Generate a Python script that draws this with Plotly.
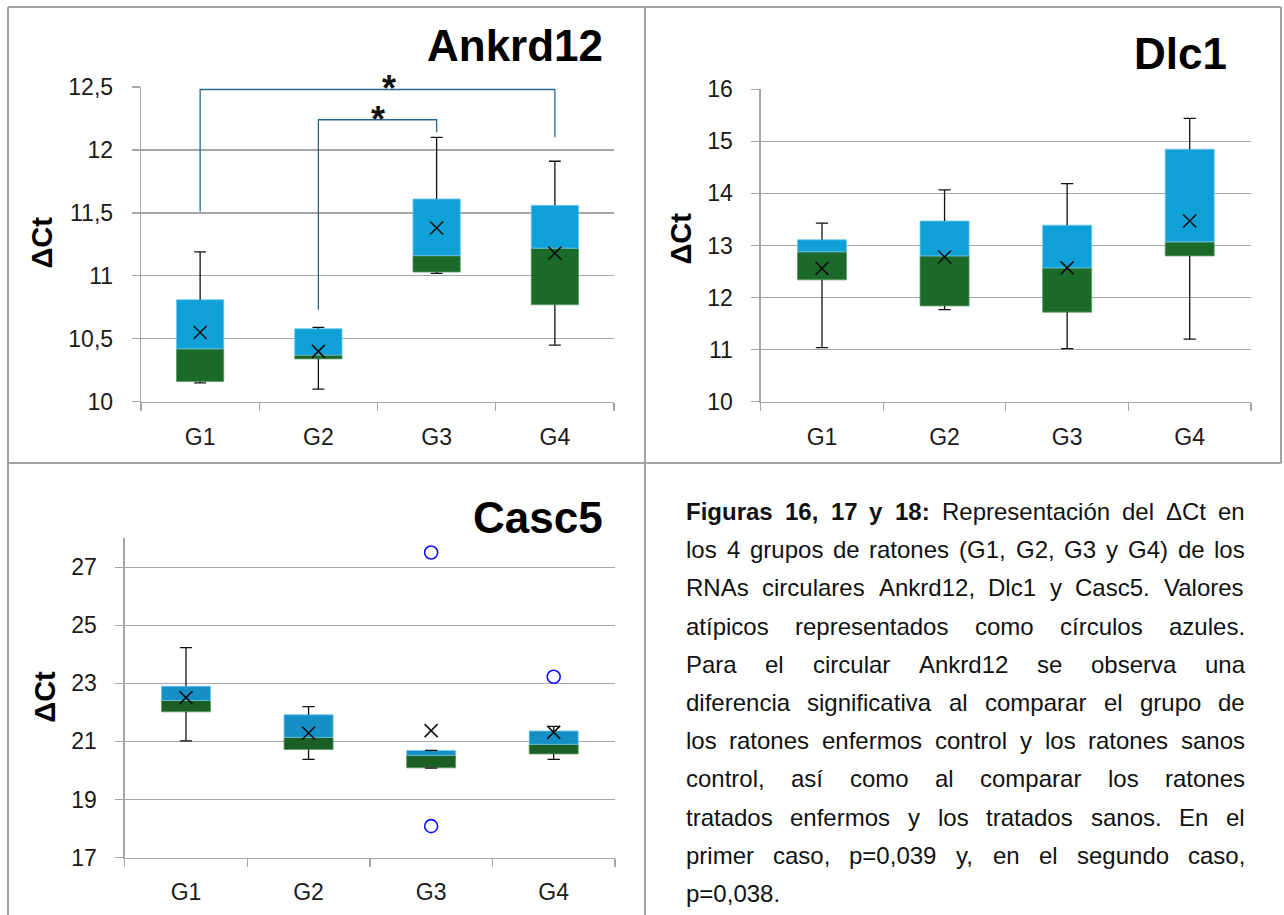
import plotly.graph_objects as go

# ---------------- data ----------------
CATEGORIES = ["G1", "G2", "G3", "G4"]

ANKRD12_MIN = [10.15, 10.10, 11.02, 10.45]
ANKRD12_Q1 = [10.16, 10.34, 11.03, 10.77]
ANKRD12_MEDIAN = [10.42, 10.37, 11.16, 11.22]
ANKRD12_Q3 = [10.81, 10.58, 11.61, 11.56]
ANKRD12_MAX = [11.19, 10.59, 12.10, 11.91]
ANKRD12_MEAN = [10.55, 10.40, 11.38, 11.18]
# significance brackets: (from group, to group, left foot, top level, right foot, star position)
ANKRD12_BRACKETS = [
    ("G1", "G4", 11.51, 12.48, 12.10, 1.6),
    ("G2", "G3", 10.73, 12.24, 12.14, 1.5),
]
ANKRD12_STAR_LEVELS = [12.56, 12.31]

DLC1_MIN = [11.04, 11.77, 11.02, 11.20]
DLC1_Q1 = [12.34, 11.84, 11.72, 12.80]
DLC1_MEDIAN = [12.88, 12.80, 12.57, 13.07]
DLC1_Q3 = [13.11, 13.47, 13.39, 14.85]
DLC1_MAX = [13.43, 14.07, 14.19, 15.44]
DLC1_MEAN = [12.56, 12.78, 12.57, 13.47]

CASC5_MIN = [21.02, 20.38, 20.08, 20.38]
CASC5_Q1 = [22.02, 20.72, 20.09, 20.57]
CASC5_MEDIAN = [22.41, 21.14, 20.52, 20.90]
CASC5_Q3 = [22.90, 21.92, 20.69, 21.36]
CASC5_MAX = [24.23, 22.20, 20.69, 21.52]
CASC5_MEAN = [22.51, 21.29, 21.37, 21.31]
CASC5_OUTLIER_GROUPS = ["G3", "G3", "G4"]
CASC5_OUTLIER_VALUES = [27.51, 18.08, 23.23]

CAPTION_BOLD = "Figuras 16, 17 y 18:"
CAPTION_LINES = [
    "Figuras 16, 17 y 18: Representación del ΔCt en",
    "los 4 grupos de ratones (G1, G2, G3 y G4) de los",
    "RNAs circulares Ankrd12, Dlc1 y Casc5. Valores",
    "atípicos representados como círculos azules.",
    "Para el circular Ankrd12 se observa una",
    "diferencia significativa al comparar el grupo de",
    "los ratones enfermos control y los ratones sanos",
    "control, así como al comparar los ratones",
    "tratados enfermos y los tratados sanos. En el",
    "primer caso, p=0,039 y, en el segundo caso,",
    "p=0,038.",
]

# ---------------- styling ----------------
W, H = 1284, 915
FONT = "Liberation Sans, Arial, sans-serif"
GRID = "#a6a6a6"
BORDER = "#a3a3a3"
TXT = "#1a1a1a"


def px(x):
    return x / W


def py(y):
    return 1 - y / H


fig = go.Figure()

PANELS = [
    dict(sfx="", data=(ANKRD12_MIN, ANKRD12_Q1, ANKRD12_MEDIAN, ANKRD12_Q3, ANKRD12_MAX, ANKRD12_MEAN),
         xd=(141, 614), yd=(401.7, 87), rng=(10, 12.5), dtick=0.5, tick0=10,
         green="#1b6a29", blue="#0fa0d8", title="Ankrd12", tx=605, ty=46, ytx=41.5, yty=242),
    dict(sfx="2", data=(DLC1_MIN, DLC1_Q1, DLC1_MEDIAN, DLC1_Q3, DLC1_MAX, DLC1_MEAN),
         xd=(760.7, 1251), yd=(401.7, 89.3), rng=(10, 16), dtick=1, tick0=10,
         green="#1b6a29", blue="#0fa0d8", title="Dlc1", tx=1229, ty=53, ytx=680.5, yty=239),
    dict(sfx="3", data=(CASC5_MIN, CASC5_Q1, CASC5_MEDIAN, CASC5_Q3, CASC5_MAX, CASC5_MEAN),
         xd=(124.7, 615), yd=(857.5, 538.3), rng=(17, 28), dtick=2, tick0=17,
         green="#1b5f27", blue="#168fc7", title="Casc5", tx=605, ty=517, ytx=44.7, yty=697),
]

xs = list(range(len(CATEGORIES)))
BOX_W = 0.4
CAP = 0.05

for p in PANELS:
    mn, q1, med, q3, mx, mean = p["data"]
    xa, ya = "x" + p["sfx"], "y" + p["sfx"]
    fig.add_trace(go.Bar(x=xs, y=[m - a for m, a in zip(med, q1)], base=q1, width=BOX_W,
                         marker=dict(color=p["green"], line=dict(color="#5e9a66", width=0.8)),
                         xaxis=xa, yaxis=ya, hoverinfo="skip"))
    fig.add_trace(go.Bar(x=xs, y=[b - m for b, m in zip(q3, med)], base=med, width=BOX_W,
                         marker=dict(color=p["blue"], line=dict(color="#6fc6ea", width=0.8)),
                         xaxis=xa, yaxis=ya, hoverinfo="skip"))
    wx, wy = [], []
    for i in xs:
        wx += [i, i, None, i - CAP, i + CAP, None, i, i, None, i - CAP, i + CAP, None]
        wy += [q3[i], mx[i], None, mx[i], mx[i], None, q1[i], mn[i], None, mn[i], mn[i], None]
    fig.add_trace(go.Scatter(x=wx, y=wy, mode="lines", line=dict(color="#111111", width=1.3),
                             xaxis=xa, yaxis=ya, hoverinfo="skip"))
    fig.add_trace(go.Scatter(x=xs, y=mean, mode="markers",
                             marker=dict(symbol="x-thin", size=13, line=dict(color="#111111", width=1.6)),
                             xaxis=xa, yaxis=ya, hoverinfo="skip"))

# outliers (Casc5)
fig.add_trace(go.Scatter(x=[CATEGORIES.index(g) for g in CASC5_OUTLIER_GROUPS], y=CASC5_OUTLIER_VALUES,
                         mode="markers", xaxis="x3", yaxis="y3",
                         marker=dict(symbol="circle-open", size=13, color="#1010ff", line=dict(width=1.6))))

layout = dict(width=W, height=H, margin=dict(l=0, r=0, t=0, b=0, pad=0, autoexpand=False),
              paper_bgcolor="white", autosize=False,
              plot_bgcolor="white", showlegend=False, barmode="overlay", separators=", ",
              font=dict(family=FONT, color=TXT))

for p in PANELS:
    layout["xaxis" + p["sfx"]] = dict(
        domain=[px(p["xd"][0]), px(p["xd"][1])], anchor="y" + p["sfx"], range=[-0.5, len(CATEGORIES) - 0.5],
        tickmode="array", tickvals=xs, ticktext=CATEGORIES, ticks="", showgrid=False, zeroline=False,
        showline=True, linecolor=GRID, linewidth=1.3, tickfont=dict(size=23, color=TXT),
        ticklabelstandoff=14, automargin=False,
        minor=dict(tickmode="array", tickvals=[i - 0.5 for i in range(len(CATEGORIES) + 1)],
                   ticks="outside", ticklen=8, tickcolor=GRID, tickwidth=1.3, showgrid=False),
        fixedrange=True)
    layout["yaxis" + p["sfx"]] = dict(
        domain=[py(p["yd"][0]), py(p["yd"][1])], anchor="x" + p["sfx"], range=list(p["rng"]),
        tick0=p["tick0"], dtick=p["dtick"], showgrid=True, gridcolor=GRID, gridwidth=1.3,
        showline=True, linecolor=GRID, linewidth=1.3, ticks="outside", ticklen=8, tickcolor=GRID,
        tickwidth=1.3, zeroline=False, tickfont=dict(size=23, color=TXT), ticklabelstandoff=14,
        automargin=False, fixedrange=True)

annotations = []
shapes = []

for p in PANELS:
    annotations.append(dict(text="<b>%s</b>" % p["title"], x=px(p["tx"]), y=py(p["ty"]), xref="paper",
                            yref="paper", xanchor="right", yanchor="middle", showarrow=False,
                            font=dict(size=44, color="#000000", family=FONT)))
    annotations.append(dict(text="<b>ΔCt</b>", x=px(p["ytx"]), y=py(p["yty"]), xref="paper", yref="paper",
                            xanchor="center", yanchor="middle", textangle=-90, showarrow=False,
                            font=dict(size=29, color="#000000", family=FONT)))

# brackets (Ankrd12 panel); stars placed in paper space so they can sit above the axis range
p0 = PANELS[0]
y_lo, y_hi = p0["rng"]


def ank_paper_y(v):
    pix = p0["yd"][0] + (v - y_lo) / (y_hi - y_lo) * (p0["yd"][1] - p0["yd"][0])
    return py(pix)


for (g_from, g_to, foot_l, level, foot_r, star_x), star_y in zip(ANKRD12_BRACKETS, ANKRD12_STAR_LEVELS):
    a, b = CATEGORIES.index(g_from), CATEGORIES.index(g_to)
    shapes.append(dict(type="path", xref="x", yref="y",
                       path="M %s,%s L %s,%s L %s,%s L %s,%s" % (a, foot_l, a, level, b, level, b, foot_r),
                       line=dict(color="#24688f", width=1.3)))
    annotations.append(dict(text="<b>*</b>", x=star_x, y=ank_paper_y(star_y), xref="x", yref="paper",
                            showarrow=False, xanchor="center", yanchor="middle", yshift=-9,
                            font=dict(size=36, color="#111111", family=FONT)))

# panel borders
for x0, y0, x1, y1 in [(8, 7, 1281, 7), (8, 463, 1281, 463), (8, 7, 8, 915), (645, 7, 645, 915),
                       (1281, 7, 1281, 463)]:
    shapes.append(dict(type="line", xref="paper", yref="paper", x0=px(x0), y0=py(y0), x1=px(x1), y1=py(y1),
                       line=dict(color=BORDER, width=2)))

# caption with manual justification (Arial / Liberation Sans metrics)
REG = {' ': 278, '(': 333, ')': 333, ',': 278, '.': 278, ':': 278, '=': 584, 'Δ': 652,
       'A': 667, 'C': 722, 'D': 722, 'E': 667, 'F': 611, 'G': 778, 'N': 722, 'P': 667, 'R': 722,
       'S': 667, 'V': 667,
       'a': 556, 'b': 556, 'c': 500, 'd': 556, 'e': 556, 'f': 278, 'g': 556, 'h': 556, 'i': 222,
       'j': 222, 'k': 500, 'l': 222, 'm': 833, 'n': 556, 'o': 556, 'p': 556, 'q': 556, 'r': 333,
       's': 500, 't': 278, 'u': 556, 'v': 500, 'w': 722, 'x': 500, 'y': 500, 'z': 500,
       'á': 556, 'é': 556, 'í': 278, 'ó': 556, 'ú': 556}
for d in "0123456789":
    REG[d] = 556
BOLD = {' ': 278, 'F': 611, 'i': 278, 'g': 611, 'u': 611, 'r': 389, 'a': 556, 's': 556, ',': 278,
        'y': 556, ':': 333}
for d in "0123456789":
    BOLD[d] = 556

CAP_SIZE = 24
CAP_LEFT, CAP_RIGHT = 686, 1245
CAP_TOP, CAP_STEP = 511.5, 38.2
n_bold = len(CAPTION_BOLD.split())


def wwidth(word, bold):
    table = BOLD if bold else REG
    return sum(table.get(c, 556) for c in word) * CAP_SIZE / 1000.0


for li, line in enumerate(CAPTION_LINES):
    words = line.split()
    bolds = [li == 0 and wi < n_bold for wi in range(len(words))]
    widths = [wwidth(w, b) for w, b in zip(words, bolds)]
    last = li == len(CAPTION_LINES) - 1
    if last or len(words) == 1:
        gap = REG[' '] * CAP_SIZE / 1000.0
    else:
        gap = (CAP_RIGHT - CAP_LEFT - sum(widths)) / (len(words) - 1)
    x = CAP_LEFT
    yline = CAP_TOP + li * CAP_STEP
    for w, b, ww in zip(words, bolds, widths):
        annotations.append(dict(text=("<b>%s</b>" % w) if b else w, x=px(x), y=py(yline), xref="paper",
                                yref="paper", xanchor="left", yanchor="middle", showarrow=False,
                                borderpad=0, borderwidth=0,
                                font=dict(size=CAP_SIZE, color="#111111", family=FONT)))
        x += ww + gap

layout["annotations"] = annotations
layout["shapes"] = shapes
fig.update_layout(**layout)

fig.write_html("out.html", config={"displayModeBar": False, "staticPlot": True})
